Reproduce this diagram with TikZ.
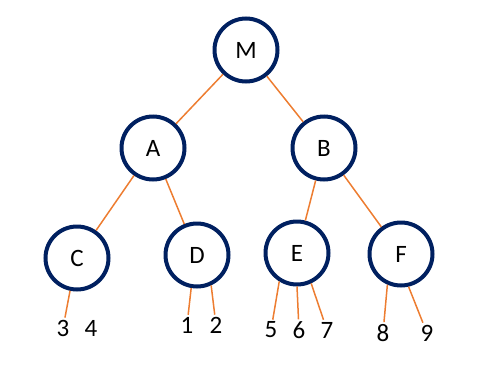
\documentclass[tikz,border=0pt]{standalone}
\usepackage{fontspec}
\setmainfont{Carlito}
\usetikzlibrary{positioning}
\definecolor{navy}{RGB}{0,32,96}
\definecolor{branch}{RGB}{237,125,49}

\begin{document}
\begin{tikzpicture}[
    x=1pt, y=-1pt,
    vertex/.style={circle, draw=navy, line width=4pt, minimum size=63pt, inner sep=0pt, font=\fontsize{25}{29}\selectfont},
    leaf/.style={inner sep=2pt, font=\fontsize{25}{29}\selectfont},
    edge/.style={draw=branch, line width=1.5pt}
]
\useasboundingbox (0,0) rectangle (502,364);

% Nodes
\node[vertex] (M) at (246,50) {M};
\node[vertex] (A) at (153,148) {A};
\node[vertex] (B) at (324,148) {B};
\node[vertex] (C) at (77,258) {C};
\node[vertex] (D) at (197,255) {D};
\node[vertex] (E) at (297,253) {E};
\node[vertex] (F) at (401,254) {F};

% Leaves
\node[leaf] (n3) at (63,328) {3};
\node[leaf] (n4) at (91,328) {4};
\node[leaf] (n1) at (187,325) {1};
\node[leaf] (n2) at (216,325) {2};
\node[leaf] (n5) at (271,330) {5};
\node[leaf] (n6) at (299,330) {6};
\node[leaf] (n7) at (327,330) {7};
\node[leaf] (n8) at (383,333) {8};
\node[leaf] (n9) at (427,333) {9};

% Edges
\draw[edge] (M) -- (A);
\draw[edge] (M) -- (B);
\draw[edge] (A) -- (C);
\draw[edge] (A) -- (D);
\draw[edge] (B) -- (E);
\draw[edge] (B) -- (F);
\draw[edge] (C.258) -- (n3);
\draw[edge] (D.260) -- (n1);
\draw[edge] (D.295) -- (n2);
\draw[edge] (E.238) -- (n5);
\draw[edge] (E.270) -- (n6);
\draw[edge] (E.295) -- (n7);
\draw[edge] (F.246) -- (n8);
\draw[edge] (F.283) -- (n9);
\end{tikzpicture}
\end{document}
